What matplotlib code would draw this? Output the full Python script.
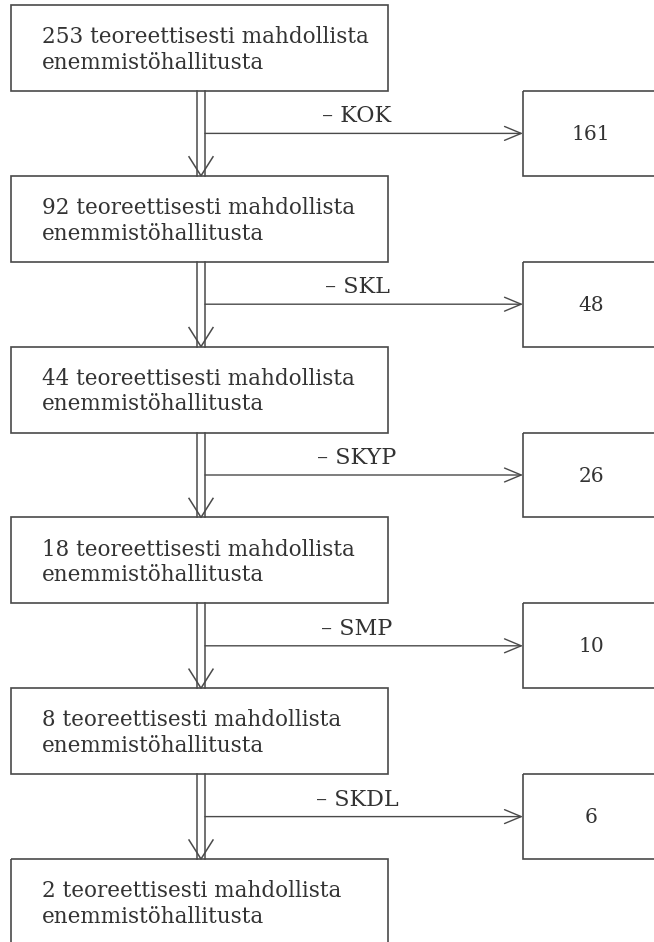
import matplotlib
matplotlib.use("Agg")
import matplotlib.pyplot as plt
from matplotlib.patches import Rectangle

# Data: jäljellä olevat hallitusvaihtoehdot ja poistuneet puolueittain
jaljella   = [253, 92, 44, 18, 8, 2]
puolueet   = ["KOK", "SKL", "SKYP", "SMP", "SKDL"]
poistuneet = [161, 48, 26, 10, 6]
teksti     = "{} teoreettisesti mahdollista\nenemmistöhallitusta"

VIIVA  = "#4a4a4a"
TEKSTI = "#333333"
FONTTI = "DejaVu Serif"

# layout (pixels)
ASKEL      = 170.8
YLA        = 5
KORKEUS    = 86
VASEN, OIK = 11, 388
X1, X2     = 197, 205
SIVU_X     = 523
SIVU_LEV   = 138

fig = plt.figure(figsize=(6.54, 9.42), dpi=100)
ax = fig.add_axes([0, 0, 1, 1])
ax.set_xlim(0, 654)
ax.set_ylim(942, 0)
ax.axis("off")

for i, n in enumerate(jaljella):
    top = YLA + i * ASKEL
    ax.add_patch(Rectangle((VASEN, top), OIK - VASEN, KORKEUS, fill=False,
                           edgecolor=VIIVA, linewidth=1.2))
    ax.text(VASEN + 31, top + 45, teksti.format(n), ha="left", va="center",
            fontsize=15.5, family=FONTTI, color=TEKSTI, linespacing=1.2)

for i, (p, m) in enumerate(zip(puolueet, poistuneet)):
    top = YLA + i * ASKEL + KORKEUS
    bottom = YLA + (i + 1) * ASKEL
    mid = (top + bottom) / 2
    xm = (X1 + X2) / 2

    # kaksoisviiva alaspäin
    ax.plot([X1, X1], [top, bottom], color=VIIVA, lw=1.1)
    ax.plot([X2, X2], [top, bottom], color=VIIVA, lw=1.1)
    ax.plot([xm - 12, xm, xm + 12], [bottom - 19, bottom, bottom - 19],
            color=VIIVA, lw=1.1)

    # sivunuoli
    ax.annotate("", xy=(SIVU_X, mid), xytext=(X2, mid),
                arrowprops=dict(arrowstyle="->,head_length=0.6,head_width=0.25",
                                color=VIIVA, lw=1.0, mutation_scale=20,
                                shrinkA=0, shrinkB=0))
    ax.text(357, mid - 17, "– " + p, ha="center", va="center",
            fontsize=16, family=FONTTI, color=TEKSTI)

    ax.add_patch(Rectangle((SIVU_X, top), SIVU_LEV, bottom - top, fill=False,
                           edgecolor=VIIVA, linewidth=1.2))
    ax.text(SIVU_X + 68, mid + 1, str(m), ha="center", va="center",
            fontsize=14.5, family=FONTTI, color=TEKSTI)

fig.savefig("out.png", dpi=100, facecolor="white")
